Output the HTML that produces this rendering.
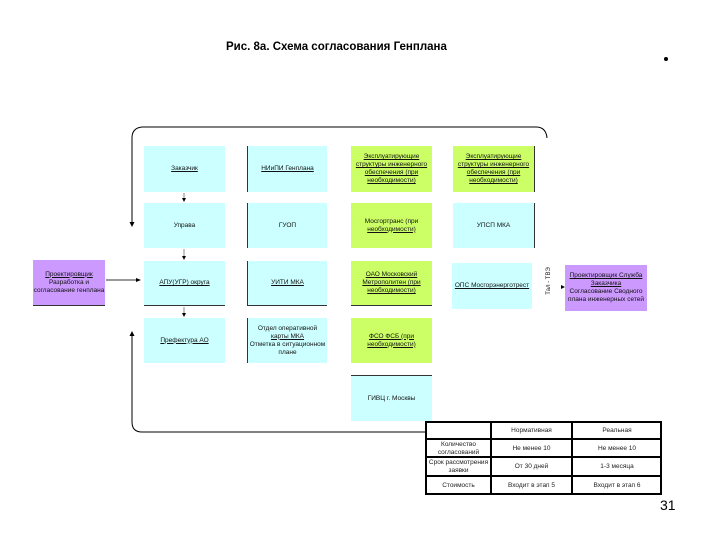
<!DOCTYPE html>
<html><head><meta charset="utf-8"><style>
body{margin:0;width:720px;height:540px;background:#fff;position:relative;overflow:hidden;font-family:"Liberation Sans","Noto Sans CJK SC",sans-serif;}
.b{position:absolute;display:flex;align-items:center;justify-content:center;text-align:center;font-size:6.5px;line-height:8px;color:#111;box-sizing:border-box;}
.c{background:#ccffff}.g{background:#ccff66}.p{background:#cc99ff}
u{text-decoration:underline}
.t{position:absolute;font-size:6.5px;color:#222;text-align:center;display:flex;align-items:center;justify-content:center;line-height:8px}
</style></head><body>
<div style="position:absolute;left:226px;top:41px;font-size:11.5px;font-weight:bold;">Рис. 8а. Схема согласования Генплана</div>
<div style="position:absolute;left:664px;top:57px;width:4px;height:4px;border-radius:50%;background:#000"></div>
<div style="position:absolute;left:660px;top:497px;font-size:14px;">31</div>

<svg width="720" height="540" style="position:absolute;left:0;top:0">
<path d="M142 127 H536 Q546 127 547 138" fill="none" stroke="#000" stroke-width="1"/>
<path d="M142 127 Q132 128 132 138 V224" fill="none" stroke="#000"/>
<polygon points="129.5,222 134.5,222 132,227" fill="#000"/>
<path d="M425 432 H142 Q132 432 132 422 V335" fill="none" stroke="#000"/>
<polygon points="129.5,336 134.5,336 132,331" fill="#000"/>
<line x1="184" y1="193" x2="184" y2="200" stroke="#888"/><polygon points="182,198 186,198 184,202" fill="#000"/>
<line x1="184" y1="249" x2="184" y2="257" stroke="#888"/><polygon points="182,256 186,256 184,260" fill="#000"/>
<line x1="184" y1="307" x2="184" y2="314" stroke="#888"/><polygon points="182,313 186,313 184,317" fill="#000"/>
<line x1="106" y1="280" x2="137" y2="280" stroke="#333"/><polygon points="136,278 141,280 136,282" fill="#000"/>
<polygon points="561,285 565,287 561,289" fill="#000"/>
</svg>

<div class="b c" style="left:144px;top:146px;width:81px;height:46px"><span><u>Заказчик</u></span></div>
<div class="b c" style="left:247px;top:146px;width:80px;height:46px;border-left:1px solid #333"><span><u>НИиПИ Генплана</u></span></div>
<div class="b g" style="left:351px;top:146px;width:81px;height:46px"><span><u>Эксплуатирующие структуры инженерного обеспечения (при необходимости)</u></span></div>
<div class="b g" style="left:453px;top:146px;width:82px;height:46px;border-right:1px solid #333"><span><u>Эксплуатирующие структуры инженерного обеспечения (при необходимости)</u></span></div>

<div class="b c" style="left:144px;top:203px;width:81px;height:45px"><span>Управа</span></div>
<div class="b c" style="left:247px;top:203px;width:80px;height:45px;border-left:1px solid #333"><span>ГУОП</span></div>
<div class="b g" style="left:351px;top:203px;width:81px;height:45px"><span>Мосгортранс (при<br><u>необходимости)</u></span></div>
<div class="b c" style="left:453px;top:203px;width:82px;height:45px;border-right:1px solid #333"><span>УПСП МКА</span></div>

<div class="b p" style="left:33px;top:260px;width:72px;height:46px;border-bottom:1px solid #333"><span><u>Проектировщик</u><br>Разработка и согласование генплана</span></div>
<div class="b c" style="left:144px;top:261px;width:81px;height:45px;border-bottom:1px solid #333"><span><u>АПУ(УГР) округа</u></span></div>
<div class="b c" style="left:247px;top:261px;width:80px;height:45px;border-left:1px solid #333;border-bottom:1px solid #333"><span><u>УИТИ МКА</u></span></div>
<div class="b g" style="left:351px;top:261px;width:81px;height:45px;border-bottom:1px solid #333"><span><u>ОАО Московский Метрополитен (при необходимости)</u></span></div>
<div class="b c" style="left:452px;top:263px;width:80px;height:46px"><span><u>ОПС Мосгорэнерготрест</u></span></div>
<div class="t" style="left:534px;top:276px;width:30px;height:10px;transform:rotate(-90deg);font-size:6px;white-space:nowrap">Тал - ТВЭ</div>
<div class="b p" style="left:565px;top:265px;width:82px;height:46px"><span><u>Проектировщик Служба Заказчика</u><br>Согласование Сводного плана инженерных сетей</span></div>

<div class="b c" style="left:144px;top:318px;width:81px;height:45px"><span><u>Префектура АО</u></span></div>
<div class="b c" style="left:247px;top:318px;width:80px;height:45px;border-left:1px solid #333"><span>Отдел оперативной<br><u>карты МКА</u><br>Отметка в ситуационном плане</span></div>
<div class="b g" style="left:351px;top:318px;width:81px;height:45px"><span><u>ФСО ФСБ (при необходимости)</u></span></div>
<div class="b c" style="left:351px;top:375px;width:81px;height:46px;border-top:1px solid #333"><span>ГИВЦ г. Москвы</span></div>

<div style="position:absolute;left:425px;top:421px;width:237px;height:74px;border:2px solid #000;box-sizing:border-box"></div>
<svg width="720" height="540" style="position:absolute;left:0;top:0">
<g stroke="#000" stroke-width="2"><line x1="491" y1="421" x2="491" y2="495"/><line x1="572" y1="421" x2="572" y2="495"/>
<line x1="425" y1="439" x2="662" y2="439"/><line x1="425" y1="457" x2="662" y2="457"/><line x1="425" y1="476" x2="662" y2="476"/></g>
</svg>
<div class="t" style="left:427px;top:440px;width:63px;height:17px">Количество согласований</div>
<div class="t" style="left:427px;top:458px;width:63px;height:18px">Срок рассмотрения заявки</div>
<div class="t" style="left:427px;top:477px;width:63px;height:17px">Стоимость</div>
<div class="t" style="left:492px;top:422px;width:79px;height:17px">Нормативная</div>
<div class="t" style="left:492px;top:440px;width:79px;height:17px">Не менее 10</div>
<div class="t" style="left:492px;top:458px;width:79px;height:18px">От 30 дней</div>
<div class="t" style="left:492px;top:477px;width:79px;height:17px">Входит в этап 5</div>
<div class="t" style="left:573px;top:422px;width:88px;height:17px">Реальная</div>
<div class="t" style="left:573px;top:440px;width:88px;height:17px">Не менее 10</div>
<div class="t" style="left:573px;top:458px;width:88px;height:18px">1-3 месяца</div>
<div class="t" style="left:573px;top:477px;width:88px;height:17px">Входит в этап 6</div>
</body></html>
